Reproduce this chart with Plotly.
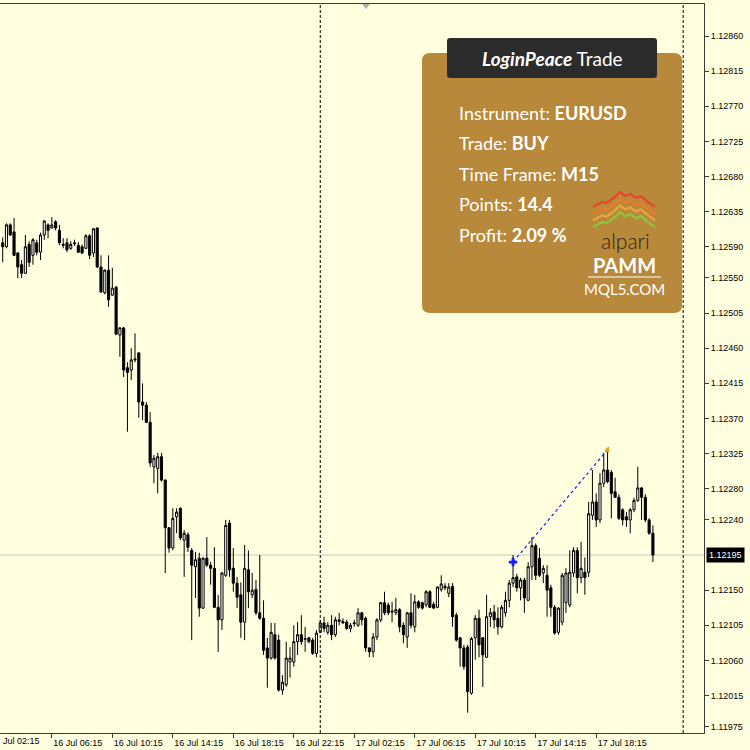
import pandas as pd
import plotly.graph_objects as go

# ---------------- data ----------------
start_time = "2019-07-16 03:00"
n_bars = 173

opens = [
1.12595,1.12590,1.12618,1.12609,1.12582,1.12567,1.12556,1.12593,1.12579,1.12595,
1.12583,1.12605,1.12618,1.12614,1.12622,1.12611,1.12593,1.12595,1.12588,1.12595,
1.12592,1.12590,1.12588,1.12604,1.12582,1.12614,1.12564,1.12531,1.12560,1.12528,
1.12538,1.12477,1.12486,1.12435,1.12432,1.12445,1.12454,1.12391,1.12387,1.12365,
1.12308,1.12306,1.12321,1.12291,1.12230,1.12204,1.12244,1.12255,1.12214,1.12221,
1.12201,1.12180,1.12191,1.12127,1.12191,1.12182,1.12178,1.12128,1.12112,1.12169,
1.12236,1.12178,1.12159,1.12144,1.12109,1.12176,1.12144,1.12151,1.12121,1.12114,
1.12076,1.12063,1.12093,1.12086,1.12022,1.12029,1.12058,1.12058,1.12084,1.12093,
1.12087,1.12089,1.12086,1.12069,1.12096,1.12108,1.12096,1.12105,1.12093,1.12110,
1.12110,1.12109,1.12101,1.12107,1.12105,1.12121,1.12114,1.12076,1.12071,1.12090,
1.12112,1.12134,1.12131,1.12122,1.12121,1.12125,1.12105,1.12090,1.12121,1.12103,
1.12135,1.12134,1.12131,1.12148,1.12132,1.12128,1.12151,1.12155,1.12146,1.12155,
1.12118,1.12089,1.12076,1.12077,1.12018,1.12089,1.12114,1.12089,1.12064,1.12116,
1.12122,1.12114,1.12103,1.12121,1.12137,1.12159,1.12167,1.12153,1.12163,1.12137,
1.12180,1.12207,1.12191,1.12172,1.12169,1.12153,1.12128,1.12096,1.12109,1.12134,
1.12131,1.12172,1.12201,1.12166,1.12173,1.12173,1.12246,1.12263,1.12240,1.12287,
1.12304,1.12301,1.12276,1.12269,1.12253,1.12244,1.12240,1.12253,1.12265,1.12281,
1.12269,1.12240,1.12223]

highs = [
1.12602,1.12620,1.12620,1.12627,1.12583,1.12573,1.12605,1.12597,1.12601,1.12599,
1.12608,1.12624,1.12620,1.12628,1.12624,1.12618,1.12601,1.12601,1.12597,1.12599,
1.12596,1.12593,1.12606,1.12606,1.12614,1.12615,1.12579,1.12561,1.12579,1.12563,
1.12540,1.12487,1.12487,1.12442,1.12460,1.12479,1.12455,1.12415,1.12391,1.12378,
1.12323,1.12326,1.12326,1.12292,1.12231,1.12255,1.12255,1.12256,1.12227,1.12224,
1.12204,1.12199,1.12198,1.12192,1.12218,1.12186,1.12205,1.12144,1.12173,1.12240,
1.12240,1.12204,1.12167,1.12160,1.12208,1.12201,1.12172,1.12163,1.12195,1.12137,
1.12089,1.12108,1.12108,1.12093,1.12041,1.12084,1.12077,1.12105,1.12109,1.12118,
1.12103,1.12090,1.12089,1.12099,1.12112,1.12116,1.12109,1.12118,1.12116,1.12121,
1.12114,1.12112,1.12108,1.12112,1.12127,1.12122,1.12116,1.12077,1.12095,1.12114,
1.12135,1.12148,1.12134,1.12135,1.12140,1.12127,1.12109,1.12122,1.12146,1.12144,
1.12137,1.12135,1.12150,1.12150,1.12135,1.12155,1.12169,1.12159,1.12159,1.12159,
1.12121,1.12090,1.12080,1.12080,1.12090,1.12118,1.12125,1.12090,1.12144,1.12127,
1.12131,1.12128,1.12131,1.12148,1.12163,1.12195,1.12171,1.12166,1.12166,1.12186,
1.12218,1.12210,1.12204,1.12182,1.12182,1.12157,1.12131,1.12128,1.12172,1.12178,
1.12201,1.12205,1.12205,1.12212,1.12192,1.12263,1.12304,1.12274,1.12300,1.12326,
1.12331,1.12304,1.12294,1.12273,1.12255,1.12250,1.12255,1.12268,1.12308,1.12282,
1.12273,1.12242,1.12233]

lows = [
1.12570,1.12588,1.12604,1.12578,1.12550,1.12550,1.12555,1.12564,1.12567,1.12579,
1.12573,1.12599,1.12601,1.12613,1.12611,1.12592,1.12588,1.12583,1.12586,1.12591,
1.12582,1.12581,1.12587,1.12574,1.12577,1.12563,1.12531,1.12529,1.12513,1.12527,
1.12477,1.12449,1.12423,1.12353,1.12419,1.12442,1.12371,1.12368,1.12364,1.12308,
1.12287,1.12274,1.12289,1.12172,1.12198,1.12201,1.12223,1.12214,1.12167,1.12199,
1.12086,1.12140,1.12116,1.12126,1.12180,1.12157,1.12127,1.12071,1.12099,1.12167,
1.12167,1.12148,1.12127,1.12089,1.12086,1.12127,1.12140,1.12118,1.12112,1.12067,
1.12025,1.12061,1.12061,1.12020,1.12016,1.12026,1.12038,1.12052,1.12067,1.12080,
1.12071,1.12082,1.12067,1.12064,1.12095,1.12096,1.12093,1.12086,1.12090,1.12105,
1.12107,1.12099,1.12096,1.12103,1.12103,1.12105,1.12071,1.12064,1.12064,1.12086,
1.12109,1.12118,1.12118,1.12109,1.12118,1.12096,1.12082,1.12076,1.12101,1.12096,
1.12126,1.12125,1.12128,1.12127,1.12126,1.12127,1.12148,1.12150,1.12141,1.12103,
1.12084,1.12052,1.12048,1.11993,1.12016,1.12061,1.12064,1.12026,1.12063,1.12103,
1.12101,1.12093,1.12101,1.12116,1.12128,1.12154,1.12148,1.12137,1.12121,1.12136,
1.12163,1.12163,1.12167,1.12159,1.12116,1.12116,1.12093,1.12093,1.12105,1.12121,
1.12128,1.12167,1.12146,1.12159,1.12144,1.12167,1.12240,1.12231,1.12236,1.12282,
1.12287,1.12242,1.12268,1.12240,1.12233,1.12231,1.12223,1.12250,1.12263,1.12240,
1.12237,1.12221,1.12186]

closes = [
1.12590,1.12618,1.12605,1.12579,1.12564,1.12556,1.12590,1.12570,1.12599,1.12583,
1.12605,1.12623,1.12611,1.12618,1.12614,1.12595,1.12592,1.12586,1.12593,1.12594,
1.12583,1.12582,1.12604,1.12579,1.12613,1.12564,1.12532,1.12560,1.12522,1.12537,
1.12478,1.12486,1.12432,1.12429,1.12445,1.12446,1.12391,1.12387,1.12365,1.12313,
1.12319,1.12321,1.12291,1.12230,1.12204,1.12242,1.12250,1.12217,1.12223,1.12205,
1.12182,1.12189,1.12127,1.12191,1.12182,1.12178,1.12128,1.12112,1.12172,1.12233,
1.12176,1.12159,1.12141,1.12109,1.12178,1.12148,1.12150,1.12121,1.12114,1.12073,
1.12063,1.12096,1.12063,1.12022,1.12032,1.12063,1.12063,1.12084,1.12093,1.12084,
1.12088,1.12084,1.12069,1.12095,1.12108,1.12101,1.12105,1.12093,1.12112,1.12112,
1.12108,1.12101,1.12105,1.12108,1.12121,1.12112,1.12076,1.12071,1.12090,1.12112,
1.12134,1.12121,1.12121,1.12123,1.12125,1.12103,1.12093,1.12121,1.12105,1.12135,
1.12128,1.12127,1.12148,1.12128,1.12127,1.12154,1.12158,1.12153,1.12154,1.12116,
1.12086,1.12076,1.12052,1.12020,1.12088,1.12114,1.12080,1.12067,1.12116,1.12121,
1.12112,1.12103,1.12128,1.12137,1.12159,1.12166,1.12153,1.12163,1.12140,1.12180,
1.12207,1.12169,1.12169,1.12178,1.12150,1.12128,1.12095,1.12127,1.12169,1.12172,
1.12173,1.12201,1.12166,1.12178,1.12166,1.12248,1.12263,1.12240,1.12287,1.12304,
1.12289,1.12274,1.12269,1.12242,1.12240,1.12240,1.12253,1.12265,1.12281,1.12269,
1.12240,1.12223,1.12195]

bid_price = 1.12195
trade_times = ["2019-07-17 12:45", "2019-07-17 19:00"]
trade_prices = [1.12186, 1.12330]
day_separators = ["2019-07-17 00:00", "2019-07-18 00:00"]

x_tick_vals = ["2019-07-16 06:15", "2019-07-16 10:15", "2019-07-16 14:15", "2019-07-16 18:15",
               "2019-07-16 22:15", "2019-07-17 02:15", "2019-07-17 06:15", "2019-07-17 10:15",
               "2019-07-17 14:15", "2019-07-17 18:15"]
first_cut_label = "Jul 02:15"   # visible part of "16 Jul 02:15" at the left edge
y_tick_text = ["1.12860", "1.12815", "1.12770", "1.12725", "1.12680", "1.12635", "1.12590",
               "1.12550", "1.12505", "1.12460", "1.12415", "1.12370", "1.12325", "1.12280",
               "1.12240", "1.12150", "1.12105", "1.12060", "1.12015", "1.11975"]
y_tick_vals = [float(t) for t in y_tick_text]

info_lines = [("Instrument: ", "EURUSD"), ("Trade: ", "BUY"), ("Time Frame: ", "M15"),
              ("Points: ", "14.4"), ("Profit: ", "2.09 %")]

# ---------------- figure ----------------
times = pd.date_range(start_time, periods=n_bars, freq="15min")

BG = "#FFFFE0"
AX = "#3a3a3a"
TICKFONT = dict(family="Liberation Sans", size=9, color="#000000")
PL, PR, PT, PB = 0, 704, 4, 733  # plot area in pixels


def px(x):
    return (x - PL) / (PR - PL)


def py(y):
    return (PB - y) / (PB - PT)


def rrect(x0, y0, x1, y1, r):
    pts = [
        f"M {px(x0 + r)} {py(y0)}", f"L {px(x1 - r)} {py(y0)}",
        f"Q {px(x1)} {py(y0)} {px(x1)} {py(y0 + r)}", f"L {px(x1)} {py(y1 - r)}",
        f"Q {px(x1)} {py(y1)} {px(x1 - r)} {py(y1)}", f"L {px(x0 + r)} {py(y1)}",
        f"Q {px(x0)} {py(y1)} {px(x0)} {py(y1 - r)}", f"L {px(x0)} {py(y0 + r)}",
        f"Q {px(x0)} {py(y0)} {px(x0 + r)} {py(y0)}", "Z"]
    return " ".join(pts)


fig = go.Figure()
fig.add_trace(go.Candlestick(
    x=times, open=opens, high=highs, low=lows, close=closes,
    increasing=dict(line=dict(color="#000000", width=1), fillcolor="#FFFFFF"),
    decreasing=dict(line=dict(color="#000000", width=1), fillcolor="#000000"),
    whiskerwidth=0, hoverinfo="skip", showlegend=False))

fig.add_trace(go.Scatter(x=trade_times, y=trade_prices, mode="lines",
                         line=dict(color="#1a1aff", width=1.2, dash="dot"),
                         hoverinfo="skip", showlegend=False))
fig.add_trace(go.Scatter(x=[trade_times[0]], y=[trade_prices[0]], mode="markers",
                         marker=dict(symbol="cross", size=7, color="#1a1aff"),
                         hoverinfo="skip", showlegend=False))
fig.add_trace(go.Scatter(x=[trade_times[1]], y=[trade_prices[1]], mode="markers",
                         marker=dict(symbol="triangle-left", size=6, color="#f0a020"),
                         hoverinfo="skip", showlegend=False))

shapes = []
shapes.append(dict(type="line", xref="paper", x0=0, x1=1, yref="y", y0=bid_price, y1=bid_price,
                   line=dict(color="#C8C8C8", width=1), layer="below"))
for d in day_separators:
    shapes.append(dict(type="line", xref="x", x0=d, x1=d, yref="paper", y0=0, y1=1,
                       line=dict(color="#000000", width=1, dash="3px,2px")))
# chart shift marker at the top
shapes.append(dict(type="path", xref="paper", yref="paper",
                   path=f"M {px(362)} {py(4)} L {px(370)} {py(4)} L {px(366)} {py(9)} Z",
                   fillcolor="#B0B0B0", line=dict(width=0)))
# info box
shapes.append(dict(type="path", xref="paper", yref="paper", path=rrect(422, 53, 682, 313, 8),
                   fillcolor="#B8893A", line=dict(width=0)))
shapes.append(dict(type="path", xref="paper", yref="paper", path=rrect(447, 38, 657, 78, 3),
                   fillcolor="#2B2B2B", line=dict(width=0)))
# alpari logo zigzags
zx = [593, 602, 607, 615, 620, 625, 630, 636, 641, 648, 655]
zy = [15, 10, 11, 5, 0, 4, 2, 6, 4, 10, 15]
for i, col in enumerate(["#E8462B", "#EE7A2C", "#E9A33A", "#8DC43F"]):
    base = 192 + i * 6.7
    path = "M " + " L ".join(f"{px(a)} {py(base + b)}" for a, b in zip(zx, zy))
    shapes.append(dict(type="path", xref="paper", yref="paper", path=path,
                       line=dict(color=col, width=2.3)))
shapes.append(dict(type="line", xref="paper", yref="paper", x0=px(588), x1=px(661),
                   y0=py(277), y1=py(277), line=dict(color="#FFFFFF", width=1)))

ann = []
ann.append(dict(xref="paper", yref="paper", x=px(552), y=py(59),
                text="<b><i>LoginPeace</i></b> Trade", showarrow=False,
                font=dict(family="Lato", size=19, color="#FFFFFF"), xanchor="center", yanchor="middle"))
for i, (lab, val) in enumerate(info_lines):
    ann.append(dict(xref="paper", yref="paper", x=px(457), y=py(113 + i * 30.4),
                    text=f"{lab}<b>{val}</b>", showarrow=False,
                    font=dict(family="Lato", size=18, color="#FFFFFF"),
                    xanchor="left", yanchor="middle"))
ann.append(dict(xref="paper", yref="paper", x=px(625), y=py(241), text="alpari", showarrow=False,
                font=dict(family="Lato", size=21, color="#2A2418", weight=300),
                xanchor="center", yanchor="middle"))
ann.append(dict(xref="paper", yref="paper", x=px(624), y=py(265), text="<b>PAMM</b>", showarrow=False,
                font=dict(family="Lato", size=20, color="#FFFFFF"), xanchor="center", yanchor="middle"))
ann.append(dict(xref="paper", yref="paper", x=px(624), y=py(289), text="MQL5.COM", showarrow=False,
                font=dict(family="Lato", size=15, color="#FFFFFF"), xanchor="center", yanchor="middle"))
ann.append(dict(xref="paper", yref="y", x=1, y=bid_price, xshift=2, text=f"{bid_price:.5f}",
                showarrow=False, bgcolor="#000000", borderpad=2,
                font=dict(family="Liberation Sans", size=9, color="#FFFFFF"),
                xanchor="left", yanchor="middle"))
ann.append(dict(xref="paper", yref="paper", x=px(1), y=py(741), text=first_cut_label,
                showarrow=False, font=TICKFONT, xanchor="left", yanchor="middle"))

fig.update_layout(
    width=750, height=750,
    margin=dict(l=PL, r=750 - PR, t=PT, b=750 - PB),
    paper_bgcolor=BG, plot_bgcolor=BG, boxgap=0.2,
    showlegend=False, shapes=shapes, annotations=ann,
    xaxis=dict(type="date", range=["2019-07-16 02:49:17", "2019-07-18 01:22:42"],
               rangeslider=dict(visible=False), showgrid=False, zeroline=False,
               showline=True, mirror=True, linecolor=AX, linewidth=1,
               ticks="outside", ticklen=4, tickcolor=AX,
               tickvals=x_tick_vals, tickformat="%d %b %H:%M", ticklabelshift=26,
               ticklabelstandoff=-3, tickfont=TICKFONT),
    yaxis=dict(side="right", range=[1.11967, 1.12901], showgrid=False, zeroline=False,
               showline=True, linecolor=AX, linewidth=1,
               ticks="outside", ticklen=4, tickcolor=AX,
               tickvals=y_tick_vals, ticktext=y_tick_text, tickfont=TICKFONT),
)

fig.write_html("out.html")
